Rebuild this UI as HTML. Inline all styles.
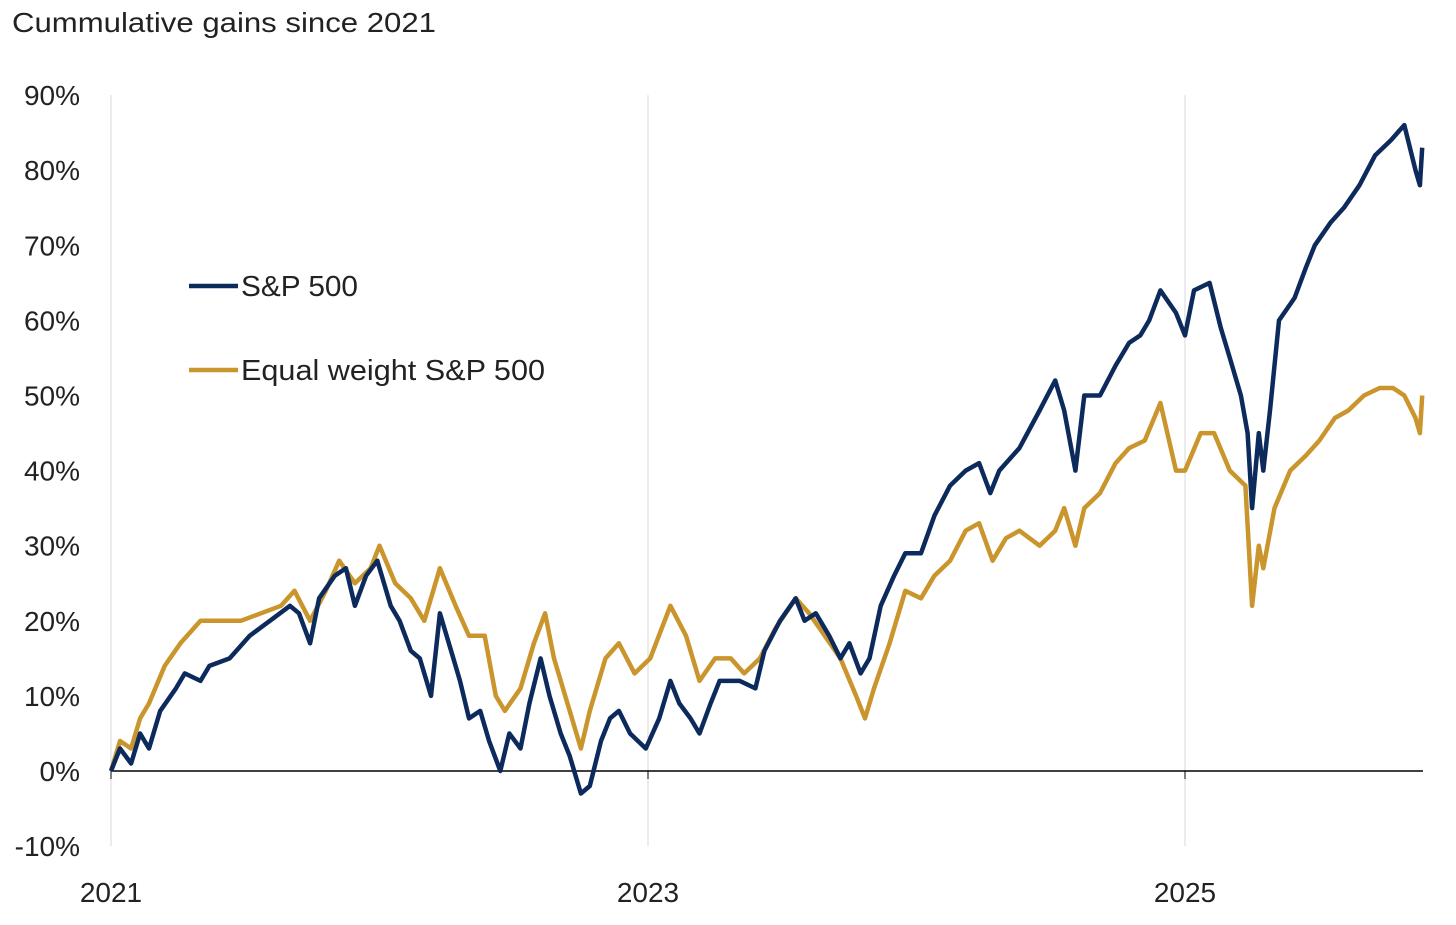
<!DOCTYPE html>
<html><head><meta charset="utf-8"><style>
body{margin:0;background:#fff;width:1456px;height:925px;overflow:hidden}
svg{display:block}
text{font-family:"Liberation Sans",sans-serif;fill:#222}
</style></head><body>
<svg id="chart" width="1456" height="925">
<text x="12" y="32" font-size="28" textLength="424" lengthAdjust="spacingAndGlyphs">Cummulative gains since 2021</text>
<g id="grid"></g><g id="yaxis"></g><g id="xaxis"></g><g id="series"></g>
<g>
<line x1="189" y1="286" x2="238" y2="286" stroke="#0d2a5c" stroke-width="4.5"/>
<text x="241" y="296" font-size="29" textLength="117" lengthAdjust="spacingAndGlyphs">S&amp;P 500</text>
<line x1="189" y1="370" x2="238" y2="370" stroke="#c9952c" stroke-width="4.5"/>
<text x="241" y="380" font-size="29" textLength="304" lengthAdjust="spacingAndGlyphs">Equal weight S&amp;P 500</text>
</g>
</svg>
<script>
const yTicks=[90,80,70,60,50,40,30,20,10,0,-10];
const xTickMonths=[0,24,48];
const xTickLabels=["2021","2023","2025"];
const spMonths=[0,0.4,0.9,1.3,1.7,2.2,2.9,3.3,4.0,4.4,5.3,6.2,7.1,8.0,8.4,8.9,9.3,10.0,10.5,10.9,11.4,11.9,12.5,12.9,13.4,13.8,14.3,14.7,15.2,15.6,16.0,16.5,16.9,17.4,17.8,18.3,18.7,19.2,19.6,20.1,20.5,21.0,21.4,21.9,22.3,22.7,23.2,23.9,24.5,25.0,25.4,25.9,26.3,26.8,27.2,28.1,28.8,29.2,29.9,30.6,31.0,31.5,32.1,32.6,33.0,33.5,33.9,34.4,35.0,35.5,36.2,36.8,37.5,38.2,38.8,39.3,39.7,40.6,41.5,42.2,42.6,43.1,43.5,44.2,44.9,45.5,46.0,46.4,46.9,47.6,48.0,48.4,49.1,49.6,50.0,50.5,50.8,51.0,51.3,51.5,51.8,52.2,52.9,53.4,53.8,54.5,55.1,55.8,56.5,57.2,57.8,58.3,58.5,58.6];
const spValues=[0,3,1,5,3,8,11,13,12,14,15,18,20,22,21,17,23,26,27,22,26,28,22,20,16,15,10,21,16,12,7,8,4,0,5,3,9,15,10,5,2,-3,-2,4,7,8,5,3,7,12,9,7,5,9,12,12,11,16,20,23,20,21,18,15,17,13,15,22,26,29,29,34,38,40,41,37,40,43,48,52,48,40,50,50,54,57,58,60,64,61,58,64,65,59,55,50,45,35,45,40,48,60,63,67,70,73,75,78,82,84,86,80,78,83];
const ewMonths=[0,0.4,0.9,1.3,1.7,2.4,3.1,4.0,4.9,5.8,6.7,7.6,8.2,8.9,9.6,10.2,10.9,11.6,12.0,12.7,13.4,14.0,14.7,15.4,16.0,16.7,17.2,17.6,18.3,18.9,19.4,19.8,20.5,21.0,21.4,22.1,22.7,23.4,24.1,25.0,25.7,26.3,27.0,27.7,28.3,29.0,29.7,30.6,31.2,31.9,32.6,33.3,33.7,34.1,34.8,35.5,36.2,36.8,37.5,38.2,38.8,39.4,40.0,40.6,41.5,42.2,42.6,43.1,43.5,44.2,44.9,45.5,46.2,46.9,47.6,48.0,48.7,49.3,50.0,50.7,51.0,51.3,51.5,52.0,52.7,53.4,54.0,54.7,55.3,56.0,56.7,57.3,57.8,58.3,58.5,58.6];
const ewValues=[0,4,3,7,9,14,17,20,20,20,21,22,24,20,24,28,25,27,30,25,23,20,27,22,18,18,10,8,11,17,21,15,8,3,8,15,17,13,15,22,18,12,15,15,13,15,19,23,21,18,15,10,7,11,17,24,23,26,28,32,33,28,31,32,30,32,35,30,35,37,41,43,44,49,40,40,45,45,40,38,22,30,27,35,40,42,44,47,48,50,51,51,50,47,45,50];
const NS="http://www.w3.org/2000/svg";
const X0=111,X48=1185,xEnd=1423,Y0=771,PX10=75.1;
const xs=m=>X0+(X48-X0)*m/48;
const ys=v=>Y0-v*PX10/10;
function mk(tag,attrs,parent){const e=document.createElementNS(NS,tag);for(const k in attrs)e.setAttribute(k,attrs[k]);parent.appendChild(e);return e;}
const grid=document.getElementById('grid'),ya=document.getElementById('yaxis'),xa=document.getElementById('xaxis'),se=document.getElementById('series');
xTickMonths.forEach((m,i)=>{
 const g=mk('line',{x1:xs(m),x2:xs(m),y1:ys(90),y2:ys(-10),stroke:'#d9d9d9','stroke-width':1},grid);
 
 
 const t=mk('line',{x1:xs(m),x2:xs(m),y1:Y0,y2:Y0+8,stroke:'#000','stroke-width':1},xa);
 
 
 const l=mk('text',{x:xs(m),y:902,'font-size':28,'text-anchor':'middle'},xa);
 l.textContent=xTickLabels[i];
 
 
});
const ax=mk('line',{x1:X0,x2:xEnd,y1:Y0,y2:Y0,stroke:'#000','stroke-width':1.5},xa);


yTicks.forEach(v=>{
 const t=mk('text',{x:80,y:ys(v)+10,'font-size':28,'text-anchor':'end'},ya);
 t.textContent=v+'%';
 
 
});
function line(ms,vs,color,name){
 const d=ms.map((m,i)=>(i?'L':'M')+xs(m).toFixed(1)+','+ys(vs[i]).toFixed(1)).join('');
 const p=mk('path',{d:d,fill:'none',stroke:color,'stroke-width':4.5,'stroke-linejoin':'round'},se);
 
 
}
line(ewMonths,ewValues,'#c9952c','equal-weight-line');
line(spMonths,spValues,'#0d2a5c','sp500-line');
</script>
</body></html>
